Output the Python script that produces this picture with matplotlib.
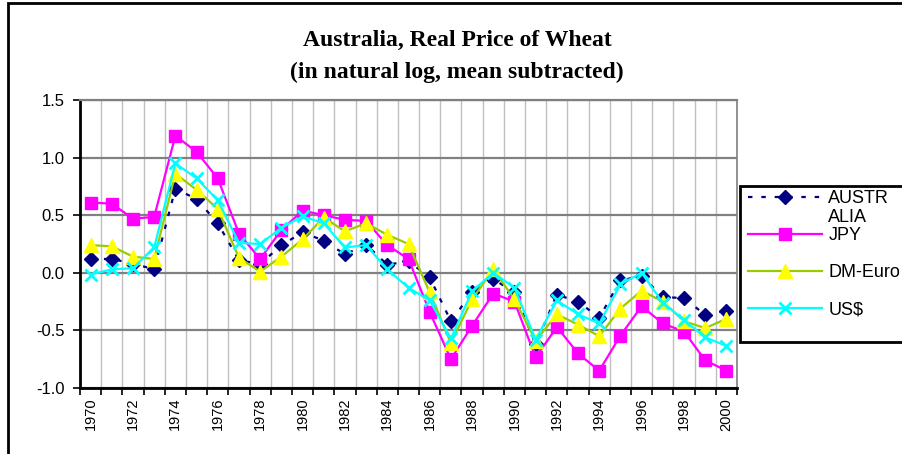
import matplotlib
matplotlib.use("Agg")
import matplotlib.pyplot as plt
from matplotlib.patches import Rectangle
import numpy as np

plt.rcParams.update({
    "font.family": ["Liberation Sans", "DejaVu Sans"],
    "axes.unicode_minus": False,
})

years = list(range(1970, 2001))
australia = [0.12, 0.12, 0.08, 0.03, 0.73, 0.64, 0.43, 0.11, 0.075, 0.24,
             0.35, 0.28, 0.16, 0.245, 0.07, 0.10, -0.04, -0.42, -0.17, -0.055,
             -0.17, -0.62, -0.19, -0.25, -0.39, -0.065, -0.03, -0.21, -0.22, -0.365,
             -0.33]
jpy = [0.61, 0.60, 0.47, 0.485, 1.19, 1.05, 0.82, 0.34, 0.12, 0.37,
       0.54, 0.50, 0.46, 0.45, 0.24, 0.12, -0.34, -0.75, -0.46, -0.18,
       -0.25, -0.735, -0.47, -0.70, -0.85, -0.545, -0.29, -0.44, -0.51, -0.76,
       -0.85]
dm_euro = [0.24, 0.23, 0.14, 0.12, 0.86, 0.72, 0.555, 0.13, 0.01, 0.14,
           0.29, 0.48, 0.36, 0.43, 0.33, 0.25, -0.17, -0.61, -0.23, 0.03,
           -0.23, -0.59, -0.36, -0.45, -0.55, -0.31, -0.155, -0.25, -0.42, -0.48,
           -0.40]
usd = [-0.015, 0.03, 0.04, 0.22, 0.95, 0.82, 0.63, 0.26, 0.25, 0.39,
       0.49, 0.43, 0.22, 0.24, 0.03, -0.13, -0.24, -0.57, -0.16, 0.00,
       -0.13, -0.58, -0.24, -0.36, -0.44, -0.10, 0.00, -0.26, -0.41, -0.56,
       -0.635]

yticks = [-1.0, -0.5, 0.0, 0.5, 1.0, 1.5]
year_labels = [str(y) for y in years[::2]]

W, H = 902, 454
fig = plt.figure(figsize=(W / 100, H / 100), dpi=100)
ax = fig.add_axes([80 / W, 1 - 388 / H, 657 / W, 288 / H])

x = np.arange(len(years))
ax.plot(x, australia, color="#000080", linestyle=(0, (2, 4)), lw=1.6,
        marker="D", ms=7, mfc="#000080", mec="#000080", label="AUSTR", zorder=3)
ax.plot(x, jpy, color="#ff00ff", lw=1.6, marker="s", ms=9,
        mfc="#ff00ff", mec="#ff00ff", label="JPY", zorder=3)
ax.plot(x, dm_euro, color="#99cc00", lw=1.6, marker="^", ms=10,
        mfc="#ffff00", mec="#ffff00", label="DM-Euro", zorder=3)
ax.plot(x, usd, color="#00ffff", lw=1.6, marker="x", ms=9, mew=2,
        label="US$", zorder=3)

ax.set_xlim(-0.5, len(years) - 0.5)
ax.set_ylim(-1.0, 1.5)
ax.set_yticks(yticks)
ax.set_yticklabels([f"{v:.1f}" for v in yticks], fontsize=12)

# tick marks at category boundaries, labels at category centres
ax.set_xticks(np.arange(-0.5, len(years), 1.0))
ax.set_xticklabels([])
ax.set_xticks(x[::2], minor=True)
ax.set_xticklabels(year_labels, minor=True, rotation=90, fontsize=10.5)
ax.tick_params(axis="x", which="major", direction="out", length=5, width=1.2, color="black")
ax.tick_params(axis="x", which="minor", length=0, pad=7)
ax.tick_params(axis="y", direction="out", length=5, width=1.2, color="black", pad=6)

ax.grid(axis="x", which="major", color="#c0c0c0", lw=1.0)
ax.grid(axis="y", color="#808080", lw=1.6)
ax.set_axisbelow(True)

for side in ("left", "bottom"):
    ax.spines[side].set_color("black")
    ax.spines[side].set_linewidth(2)
ax.spines["top"].set_color("#808080")
ax.spines["top"].set_linewidth(1.6)
ax.spines["right"].set_color("#808080")
ax.spines["right"].set_linewidth(1.2)

fig.text(457 / W, 1 - 40 / H, "Australia, Real Price of Wheat", ha="center", va="center",
         fontfamily="Liberation Serif", fontweight="bold", fontsize=17)
fig.text(457 / W, 1 - 72 / H, "(in natural log, mean subtracted)", ha="center", va="center",
         fontfamily="Liberation Serif", fontweight="bold", fontsize=17)

leg = fig.legend(loc="upper left", bbox_to_anchor=(748 / W, 1 - 190 / H),
                 fontsize=13, handlelength=4.1, handletextpad=0.35,
                 borderpad=0, borderaxespad=0, labelspacing=1.12, frameon=False)

# legend box drawn separately, it runs off the right edge like the original
fig.patches.append(Rectangle((740 / W, 1 - 342 / H), 0.5, 156 / H, transform=fig.transFigure,
                             fill=True, facecolor="white", edgecolor="black", lw=2, zorder=0))

# outer chart border (runs off the right and bottom edges)
fig.patches.append(Rectangle((8 / W, -0.2), 1.5, 0.2 + (1 - 3 / H), transform=fig.transFigure,
                             fill=False, edgecolor="black", lw=2))

# second line of the wrapped "AUSTRALIA" label
fig.canvas.draw()
bb = leg.get_texts()[0].get_window_extent()
fig.text(bb.x0 / W, ((bb.y0 + bb.y1) / 2 - 19) / H, "ALIA", ha="left", va="center", fontsize=13)

fig.savefig("out.png", dpi=100)
